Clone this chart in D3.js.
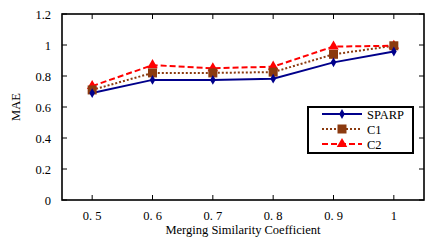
<!DOCTYPE html>
<html><head><meta charset="utf-8">
<script src="https://cdn.jsdelivr.net/npm/d3@7"></script>
<style>body{margin:0;background:#fff}svg{display:block}svg text{font-family:"Liberation Serif","Times New Roman",Times,serif !important}</style>
</head><body><svg id="c" width="435" height="243"></svg>
<script>
const categories = ["0.5","0.6","0.7","0.8","0.9","1"];
const sparp = [0.69, 0.775, 0.775, 0.783, 0.888, 0.958];
const c1 = [0.71, 0.82, 0.82, 0.825, 0.94, 0.995];
const c2 = [0.735, 0.87, 0.85, 0.86, 0.99, 0.995];
const yTicks = [0, 0.2, 0.4, 0.6, 0.8, 1, 1.2];
const tickLabels = ["0. 5","0. 6","0. 7","0. 8","0. 9","1"];

const svg = d3.select("#c");
const L = 62, R = 424, T = 14, B = 200;
const x = d3.scalePoint().domain(categories).range([L, R]).padding(0.5);
const y = d3.scaleLinear().domain([0, 1.2]).range([B, T]);
const FS = 12.5;

const g = svg.append("g");
yTicks.forEach(v => {
  g.append("line").attr("x1", L).attr("x2", L + 5).attr("y1", y(v)).attr("y2", y(v)).attr("stroke", "#000");
  g.append("line").attr("x1", R).attr("x2", R - 5).attr("y1", y(v)).attr("y2", y(v)).attr("stroke", "#000");
  g.append("text").attr("x", 51).attr("y", y(v) + 4.5).attr("text-anchor", "end").attr("font-size", FS).text(d3.format("")(v));
});
categories.forEach((c, i) => {
  g.append("line").attr("x1", x(c)).attr("x2", x(c)).attr("y1", B).attr("y2", B - 5).attr("stroke", "#000");
  g.append("line").attr("x1", x(c)).attr("x2", x(c)).attr("y1", T).attr("y2", T + 5).attr("stroke", "#000");
  g.append("text").attr("x", x(c)).attr("y", 220).attr("text-anchor", "middle").attr("font-size", FS).text(tickLabels[i]);
});
svg.append("rect").attr("x", L).attr("y", T).attr("width", R - L).attr("height", B - T)
  .attr("fill", "none").attr("stroke", "#000").attr("stroke-width", 1.6);

svg.append("text").attr("x", 243).attr("y", 234).attr("text-anchor", "middle").attr("font-size", FS).text("Merging Similarity Coefficient");
svg.append("text").attr("transform", "translate(20,107) rotate(-90)").attr("text-anchor", "middle").attr("font-size", FS).text("MAE");

const series = [
  {name: "SPARP", vals: sparp, color: "#00008b", dash: null, w: 2, marker: "diamond"},
  {name: "C1", vals: c1, color: "#8b3a0f", dash: "2,2", w: 2, marker: "square"},
  {name: "C2", vals: c2, color: "#ff0000", dash: "6,3", w: 2, marker: "triangle"}
];
const line = d3.line().x((d, i) => x(categories[i])).y(d => y(d));
function mark(sel, type, cx, cy, color) {
  if (type === "diamond") {
    sel.append("path").attr("d", d3.symbol(d3.symbolDiamond, 28)()).attr("transform", `translate(${cx},${cy})`).attr("fill", color);
  } else if (type === "square") {
    sel.append("rect").attr("x", cx - 4.5).attr("y", cy - 4.5).attr("width", 9).attr("height", 9).attr("fill", color);
  } else {
    sel.append("path").attr("d", d3.symbol(d3.symbolTriangle, 48)()).attr("transform", `translate(${cx},${cy})`).attr("fill", color);
  }
}
series.forEach(s => {
  svg.append("path").datum(s.vals).attr("d", line).attr("fill", "none").attr("stroke", s.color)
    .attr("stroke-width", s.w).attr("stroke-dasharray", s.dash);
});
[2, 1, 0].forEach(k => {
  const s = series[k];
  s.vals.forEach((v, i) => mark(svg, s.marker, x(categories[i]), y(v), s.color));
});

const lg = svg.append("g");
lg.append("rect").attr("x", 308).attr("y", 107).attr("width", 105).attr("height", 46).attr("fill", "#fff").attr("stroke", "#000").attr("stroke-width", 2);
series.forEach((s, i) => {
  const ly = 114 + i * 15;
  lg.append("line").attr("x1", 322).attr("x2", 362).attr("y1", ly).attr("y2", ly).attr("stroke", s.color).attr("stroke-width", s.w).attr("stroke-dasharray", s.dash);
  mark(lg, s.marker, 342, ly, s.color);
  lg.append("text").attr("x", 367).attr("y", ly + 4.5).attr("font-size", FS).text(s.name);
});
</script></body></html>
